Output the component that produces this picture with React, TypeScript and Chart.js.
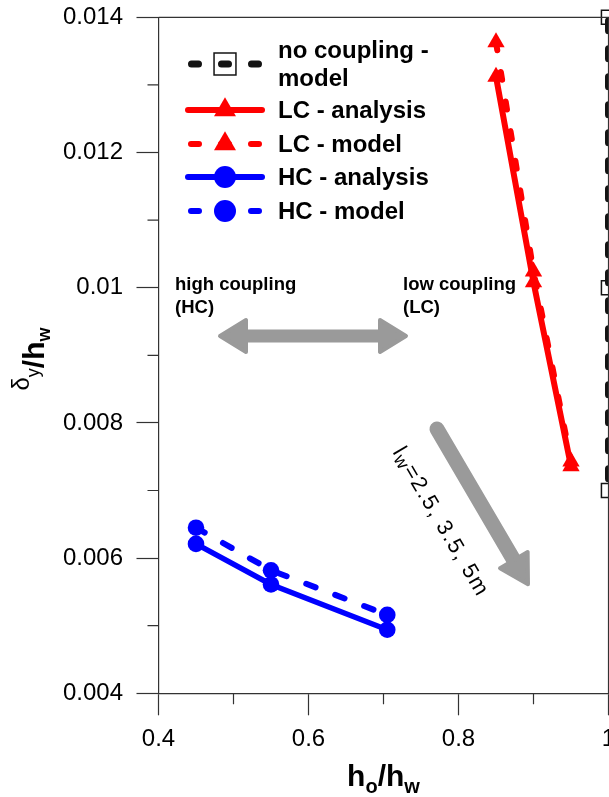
import { useEffect, useRef } from "react";
import { Chart, registerables } from "chart.js";

Chart.register(...registerables);

const FONT = '"Liberation Sans", Arial, Helvetica, sans-serif';
const CANVAS_W = 660;
const CANVAS_H = 797;

// Axis ticks
const xTickValues = [0.4, 0.6, 0.8, 1.0];
const xMinorTicks = [0.5, 0.7, 0.9];
const yTickValues = [0.004, 0.006, 0.008, 0.01, 0.012, 0.014];
const yMinorTicks = [0.005, 0.007, 0.009, 0.011, 0.013];

// Series: normalised opening height vs normalised yield drift
const noCouplingX = [1.0, 1.0, 1.0];
const noCouplingModel = [0.014, 0.01, 0.007];
const lcX = [0.85, 0.9, 0.95];
const lcAnalysis = [0.01312, 0.01008, 0.00736];
const lcModel = [0.01363, 0.01024, 0.00743];
const hcX = [0.45, 0.55, 0.705];
const hcAnalysis = [0.00621, 0.00561, 0.00494];
const hcModel = [0.00645, 0.00582, 0.00516];

const seriesLabels = [
  ["no coupling -", "model"],
  ["LC - analysis"],
  ["LC - model"],
  ["HC - analysis"],
  ["HC - model"],
];

const BLACK = "#141414";
const RED = "#ff0000";
const BLUE = "#0000ff";
const GRAY = "#9a9a9a";
const AXIS = "#333333";

const pts = (xs: number[], ys: number[]) => xs.map((x, i) => ({ x, y: ys[i] }));
const fmt = (v: number | string) => String(Number(Number(v).toFixed(3)));

function markerPath(ctx: CanvasRenderingContext2D, style: string, x: number, y: number, r: number) {
  ctx.beginPath();
  if (style === "circle") {
    ctx.arc(x, y, r, 0, Math.PI * 2);
  } else if (style === "triangle") {
    for (let k = 0; k < 3; k++) {
      const a = (k * 2 * Math.PI) / 3;
      const px = x + Math.sin(a) * r;
      const py = y - Math.cos(a) * r;
      if (k === 0) ctx.moveTo(px, py);
      else ctx.lineTo(px, py);
    }
    ctx.closePath();
  } else {
    const s = r * Math.SQRT1_2;
    ctx.rect(x - s, y - s, 2 * s, 2 * s);
  }
}

// Series key drawn inside the plot, line sample + marker for each dataset
const seriesKeyPlugin = {
  id: "seriesKey",
  afterDraw(chart: any) {
    const ctx: CanvasRenderingContext2D = chart.ctx;
    const x0 = 188;
    const x1 = 262;
    const xm = (x0 + x1) / 2;
    const textX = 278;
    const rows = [64, 110, 144, 177, 211];
    const markerR: Record<string, number> = { rect: 15.5, triangle: 12.7, circle: 11 };
    ctx.save();
    chart.data.datasets.forEach((ds: any, i: number) => {
      const y = rows[i];
      ctx.save();
      ctx.strokeStyle = ds.borderColor;
      ctx.lineWidth = i === 0 ? 7 : 6;
      ctx.lineCap = "round";
      if (ds.borderDash && ds.borderDash.length) {
        const capHalf = ctx.lineWidth / 2;
        ctx.setLineDash([14 - 2 * capHalf, 16 + 2 * capHalf]);
        ctx.lineDashOffset = -capHalf;
      }
      ctx.beginPath();
      ctx.moveTo(x0, y);
      ctx.lineTo(x1, y);
      ctx.stroke();
      ctx.restore();

      ctx.save();
      markerPath(ctx, ds.pointStyle, xm, y, markerR[ds.pointStyle]);
      if (ds.pointStyle === "rect") {
        ctx.strokeStyle = BLACK;
        ctx.lineWidth = 1.5;
        ctx.stroke();
      } else {
        ctx.fillStyle = ds.pointBackgroundColor;
        ctx.fill();
      }
      ctx.restore();

      ctx.fillStyle = "#000";
      ctx.font = `bold 24px ${FONT}`;
      ctx.textBaseline = "middle";
      ctx.textAlign = "left";
      const lines = seriesLabels[i];
      if (lines.length === 2) {
        ctx.fillText(lines[0], textX, 51);
        ctx.fillText(lines[1], textX, 79);
      } else {
        ctx.fillText(lines[0], textX, y + 1);
      }
    });
    ctx.restore();
  },
};

type Seg = { t: string; font: string; dy: number };

function drawSegments(ctx: CanvasRenderingContext2D, segs: Seg[], cx: number, baseY: number) {
  let total = 0;
  for (const s of segs) {
    ctx.font = s.font;
    total += ctx.measureText(s.t).width;
  }
  let x = cx - total / 2;
  ctx.textAlign = "left";
  ctx.textBaseline = "alphabetic";
  for (const s of segs) {
    ctx.font = s.font;
    ctx.fillText(s.t, x, baseY + s.dy);
    x += ctx.measureText(s.t).width;
  }
}

function drawArrowHead(ctx: CanvasRenderingContext2D, tipX: number, tipY: number, ang: number, len: number, half: number) {
  const bx = tipX - Math.cos(ang) * len;
  const by = tipY - Math.sin(ang) * len;
  const nx = -Math.sin(ang);
  const ny = Math.cos(ang);
  ctx.beginPath();
  ctx.moveTo(tipX, tipY);
  ctx.lineTo(bx + nx * half, by + ny * half);
  ctx.lineTo(bx - nx * half, by - ny * half);
  ctx.closePath();
  ctx.fill();
  ctx.stroke();
}

// Axis titles, minor ticks, frame and the explanatory arrows
const decorPlugin = {
  id: "decor",
  afterDraw(chart: any) {
    const ctx: CanvasRenderingContext2D = chart.ctx;
    const xs = chart.scales.x;
    const ys = chart.scales.y;
    const area = chart.chartArea;
    ctx.save();

    // frame (top and right)
    ctx.strokeStyle = AXIS;
    ctx.lineWidth = 1.2;
    ctx.beginPath();
    ctx.moveTo(area.left, area.top);
    ctx.lineTo(area.right, area.top);
    ctx.lineTo(area.right, area.bottom);
    ctx.stroke();

    // minor ticks
    ctx.beginPath();
    for (const v of xMinorTicks) {
      const px = xs.getPixelForValue(v);
      ctx.moveTo(px, area.bottom);
      ctx.lineTo(px, area.bottom + 11);
    }
    for (const v of yMinorTicks) {
      const py = ys.getPixelForValue(v);
      ctx.moveTo(area.left, py);
      ctx.lineTo(area.left - 11, py);
    }
    ctx.stroke();

    // axis titles
    ctx.fillStyle = "#000";
    drawSegments(
      ctx,
      [
        { t: "h", font: `bold 30px ${FONT}`, dy: 0 },
        { t: "o", font: `bold 20px ${FONT}`, dy: 7 },
        { t: "/h", font: `bold 30px ${FONT}`, dy: 0 },
        { t: "w", font: `bold 20px ${FONT}`, dy: 7 },
      ],
      (area.left + area.right) / 2,
      786
    );
    ctx.save();
    ctx.translate(44, 359);
    ctx.rotate(-Math.PI / 2);
    drawSegments(
      ctx,
      [
        { t: "δ", font: `24px ${FONT}`, dy: -15 },
        { t: "y", font: `18px ${FONT}`, dy: -5 },
        { t: "/h", font: `bold 30px ${FONT}`, dy: 0 },
        { t: "w", font: `bold 18px ${FONT}`, dy: 6 },
      ],
      0,
      0
    );
    ctx.restore();

    // coupling labels
    ctx.font = `bold 18.5px ${FONT}`;
    ctx.textAlign = "left";
    ctx.textBaseline = "alphabetic";
    ctx.fillText("high coupling", 175, 290);
    ctx.fillText("(HC)", 175, 313);
    ctx.fillText("low coupling", 403, 290);
    ctx.fillText("(LC)", 403, 313);

    // double-headed arrow between HC and LC
    ctx.fillStyle = GRAY;
    ctx.strokeStyle = GRAY;
    ctx.lineJoin = "round";
    ctx.lineCap = "butt";
    const ay = 336;
    const ax0 = 218;
    const ax1 = 408;
    const hl = 30;
    ctx.lineWidth = 13;
    ctx.beginPath();
    ctx.moveTo(ax0 + hl - 2, ay);
    ctx.lineTo(ax1 - hl + 2, ay);
    ctx.stroke();
    ctx.lineWidth = 4;
    drawArrowHead(ctx, ax0 + 2, ay, Math.PI, hl - 4, 16);
    drawArrowHead(ctx, ax1 - 2, ay, 0, hl - 4, 16);

    // wall length arrow
    const sx = 437;
    const sy = 429;
    const tx = 529;
    const ty = 586;
    const ang = Math.atan2(ty - sy, tx - sx);
    const headLen = 32;
    ctx.lineWidth = 15;
    ctx.lineCap = "round";
    ctx.beginPath();
    ctx.moveTo(sx, sy);
    ctx.lineTo(tx - Math.cos(ang) * (headLen - 2), ty - Math.sin(ang) * (headLen - 2));
    ctx.stroke();
    ctx.lineWidth = 4;
    drawArrowHead(ctx, tx - Math.cos(ang) * 2, ty - Math.sin(ang) * 2, ang, headLen - 4, 16);

    // rotated wall length label
    ctx.save();
    ctx.fillStyle = "#000";
    ctx.translate(442, 521);
    ctx.rotate(ang);
    (ctx as any).letterSpacing = "1.5px";
    drawSegments(
      ctx,
      [
        { t: "l", font: `22px ${FONT}`, dy: 0 },
        { t: "w", font: `18px ${FONT}`, dy: 3 },
        { t: "=2.5, 3.5, 5m", font: `22px ${FONT}`, dy: 0 },
      ],
      0,
      8
    );
    ctx.restore();

    ctx.restore();
  },
};

const tickFont = { family: FONT, size: 24 };

export default function App() {
  const ref = useRef<HTMLCanvasElement>(null);

  useEffect(() => {
    if (!ref.current) return;
    const chart = new Chart(ref.current, {
      type: "scatter",
      data: {
        datasets: [
          {
            label: "no coupling - model",
            data: pts(noCouplingX, noCouplingModel),
            showLine: true,
            borderColor: BLACK,
            borderWidth: 7,
            borderDash: [10, 18],
            borderDashOffset: -3.5,
            borderCapStyle: "round",
            pointStyle: "rect",
            pointRadius: 10,
            pointBorderWidth: 1.5,
            pointBorderColor: BLACK,
            pointBackgroundColor: "rgba(0,0,0,0)",
            clip: false,
          },
          {
            label: "LC - analysis",
            data: pts(lcX, lcAnalysis),
            showLine: true,
            borderColor: RED,
            borderWidth: 6,
            pointStyle: "triangle",
            pointRadius: 10,
            pointBorderWidth: 0,
            pointBackgroundColor: RED,
            clip: false,
          },
          {
            label: "LC - model",
            data: pts(lcX, lcModel),
            showLine: true,
            borderColor: RED,
            borderWidth: 6,
            borderDash: [8, 22],
            borderCapStyle: "round",
            pointStyle: "triangle",
            pointRadius: 10,
            pointBorderWidth: 0,
            pointBackgroundColor: RED,
            clip: false,
          },
          {
            label: "HC - analysis",
            data: pts(hcX, hcAnalysis),
            showLine: true,
            borderColor: BLUE,
            borderWidth: 5.5,
            pointStyle: "circle",
            pointRadius: 8.3,
            pointBorderWidth: 0,
            pointBackgroundColor: BLUE,
            clip: false,
          },
          {
            label: "HC - model",
            data: pts(hcX, hcModel),
            showLine: true,
            borderColor: BLUE,
            borderWidth: 6,
            borderDash: [10, 21],
            borderCapStyle: "round",
            pointStyle: "circle",
            pointRadius: 8.3,
            pointBorderWidth: 0,
            pointBackgroundColor: BLUE,
            clip: false,
          },
        ],
      } as any,
      options: {
        animation: false,
        responsive: false,
        devicePixelRatio: 1,
        layout: { padding: { left: 0, top: 17.3, right: CANVAS_W - 608.5, bottom: 0 } },
        plugins: { legend: { display: false }, tooltip: { enabled: false } },
        scales: {
          x: {
            type: "linear",
            min: 0.4,
            max: 1.0,
            afterFit: (s: any) => {
              s.height = CANVAS_H - 693.3;
              s.paddingLeft = 0;
              s.paddingRight = 0;
            },
            afterBuildTicks: (s: any) => {
              s.ticks = xTickValues.map((v) => ({ value: v }));
            },
            ticks: {
              font: tickFont,
              color: "#000",
              padding: 10,
              maxRotation: 0,
              autoSkip: false,
              callback: (v: any) => fmt(v),
            },
            grid: {
              drawOnChartArea: false,
              drawTicks: true,
              tickLength: 22,
              tickColor: AXIS,
              tickWidth: 1.2,
            },
            border: { display: true, color: AXIS, width: 1.2 },
          },
          y: {
            type: "linear",
            min: 0.004,
            max: 0.014,
            afterFit: (s: any) => {
              s.width = 158.5;
              s.paddingTop = 0;
              s.paddingBottom = 0;
            },
            afterBuildTicks: (s: any) => {
              s.ticks = yTickValues.map((v) => ({ value: v }));
            },
            ticks: {
              font: tickFont,
              color: "#000",
              padding: 13.5,
              autoSkip: false,
              callback: (v: any) => fmt(v),
            },
            grid: {
              drawOnChartArea: false,
              drawTicks: true,
              tickLength: 22,
              tickColor: AXIS,
              tickWidth: 1.2,
            },
            border: { display: true, color: AXIS, width: 1.2 },
          },
        },
      } as any,
      plugins: [decorPlugin, seriesKeyPlugin],
    });
    return () => chart.destroy();
  }, []);

  return (
    <div style={{ position: "fixed", left: 0, top: 0, width: CANVAS_W, height: CANVAS_H, background: "#fff" }}>
      <canvas ref={ref} width={CANVAS_W} height={CANVAS_H} style={{ display: "block", width: CANVAS_W, height: CANVAS_H }} />
    </div>
  );
}
